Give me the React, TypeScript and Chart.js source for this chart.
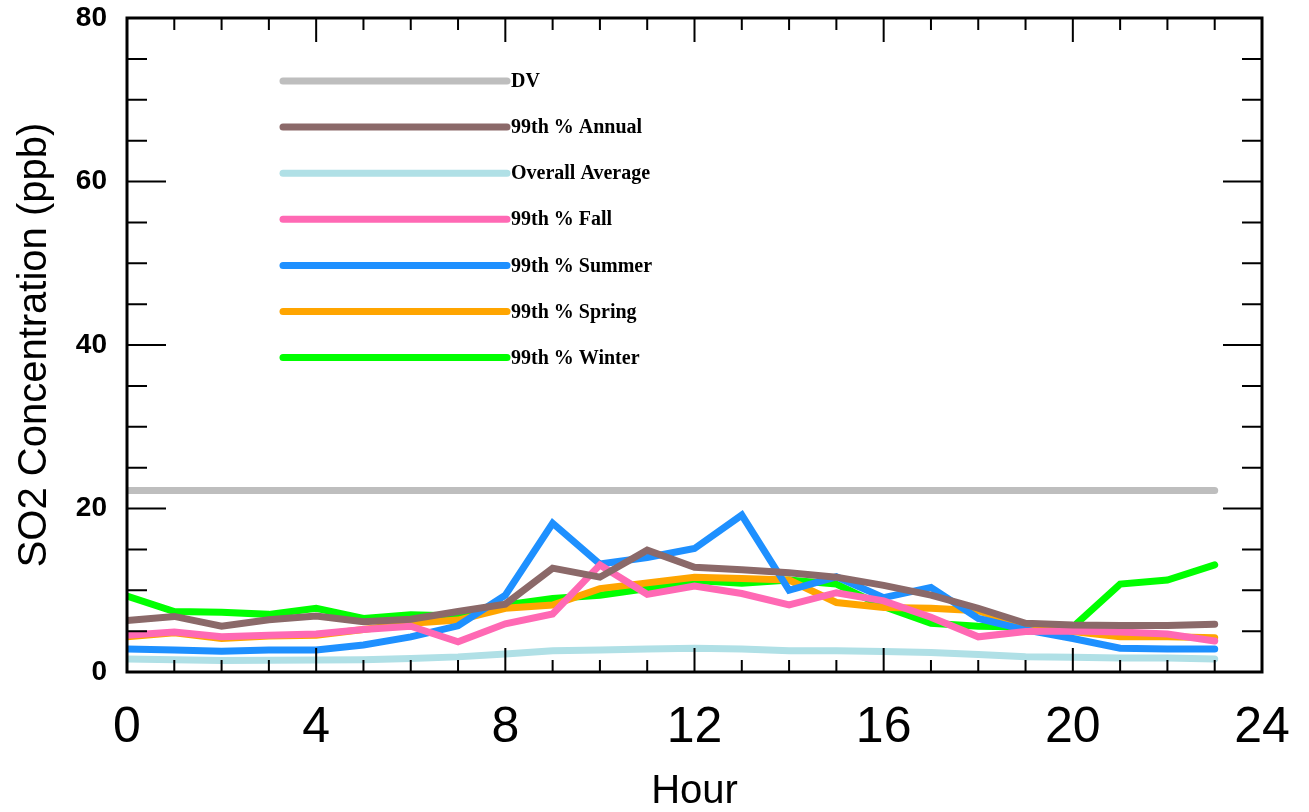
import React, { useEffect, useRef } from "react";
import { Chart, registerables } from "chart.js";

Chart.register(...registerables);

const hours = [0, 1, 2, 3, 4, 5, 6, 7, 8, 9, 10, 11, 12, 13, 14, 15, 16, 17, 18, 19, 20, 21, 22, 23];

const dv = [22.2, 22.2, 22.2, 22.2, 22.2, 22.2, 22.2, 22.2, 22.2, 22.2, 22.2, 22.2, 22.2, 22.2, 22.2, 22.2, 22.2, 22.2, 22.2, 22.2, 22.2, 22.2, 22.2, 22.2];
const annual = [6.3, 6.8, 5.6, 6.4, 6.85, 6.15, 6.45, 7.4, 8.3, 12.7, 11.6, 14.9, 12.8, 12.5, 12.15, 11.6, 10.6, 9.4, 7.8, 5.95, 5.75, 5.7, 5.7, 5.85];
const overall = [1.6, 1.5, 1.4, 1.45, 1.47, 1.5, 1.65, 1.85, 2.2, 2.6, 2.7, 2.8, 2.9, 2.8, 2.6, 2.6, 2.5, 2.4, 2.15, 1.87, 1.8, 1.7, 1.7, 1.6];
const fall = [4.5, 4.9, 4.3, 4.5, 4.65, 5.2, 5.6, 3.7, 5.9, 7.1, 13.1, 9.5, 10.5, 9.6, 8.2, 9.7, 8.7, 6.7, 4.3, 4.95, 5.0, 4.9, 4.65, 3.8];
const summer = [2.8, 2.7, 2.55, 2.7, 2.7, 3.3, 4.3, 5.65, 9.4, 18.2, 13.2, 14.0, 15.1, 19.2, 10.0, 11.65, 9.1, 10.35, 6.55, 5.15, 4.1, 2.9, 2.8, 2.8];
const spring = [4.3, 4.8, 4.1, 4.4, 4.5, 5.2, 5.95, 6.35, 7.8, 8.2, 10.2, 10.9, 11.6, 11.45, 11.25, 8.5, 7.9, 7.8, 7.5, 5.5, 4.95, 4.3, 4.3, 4.2];
const winter = [9.3, 7.4, 7.3, 7.05, 7.8, 6.55, 7.0, 6.85, 8.2, 9.0, 9.4, 10.2, 11.2, 10.85, 11.25, 10.75, 8.0, 5.95, 5.6, 5.5, 5.5, 10.75, 11.25, 13.1];

const legendLabels = ["DV", "99th % Annual", "Overall Average", "99th % Fall", "99th % Summer", "99th % Spring", "99th % Winter"];
const legendColors = ["#bebebe", "#8b6969", "#b0e0e6", "#ff69b4", "#1e90ff", "#ffa500", "#00ff00"];
const legendValues = [dv, annual, overall, fall, summer, spring, winter];
// drawing order: first entry is drawn on top
const drawOrder = ["99th % Annual", "99th % Fall", "99th % Summer", "99th % Spring", "99th % Winter", "Overall Average", "DV"];

const xMin = 0, xMax = 24, xStep = 4, xMinorStep = 1;
const yMin = 0, yMax = 80, yStep = 20, yMinorStep = 5;

export default function App() {
  const ref = useRef<HTMLCanvasElement>(null);

  useEffect(() => {
    if (!ref.current) return;

    const framePlugin = {
      id: "frameTicksLegend",
      afterDatasetsDraw(chart: any) {
        const { ctx, chartArea: a, scales } = chart;
        const xs = scales.x, ys = scales.y;
        ctx.save();
        ctx.strokeStyle = "#000";
        ctx.lineWidth = 2;
        ctx.lineCap = "butt";
        for (let v = yMin; v <= yMax; v += yMinorStep) {
          const py = ys.getPixelForValue(v);
          const len = v % yStep === 0 ? 39 : 20;
          ctx.beginPath();
          ctx.moveTo(a.left, py);
          ctx.lineTo(a.left + len, py);
          ctx.moveTo(a.right, py);
          ctx.lineTo(a.right - len, py);
          ctx.stroke();
        }
        for (let v = xMin; v <= xMax; v += xMinorStep) {
          const px = xs.getPixelForValue(v);
          const len = v % xStep === 0 ? 24 : 12;
          ctx.beginPath();
          ctx.moveTo(px, a.bottom);
          ctx.lineTo(px, a.bottom - len);
          ctx.moveTo(px, a.top);
          ctx.lineTo(px, a.top + len);
          ctx.stroke();
        }
        ctx.lineWidth = 3;
        ctx.strokeRect(a.left, a.top, a.right - a.left, a.bottom - a.top);

        // legend
        const lx0 = 283, lx1 = 507, ly0 = 81, ldy = 46.1;
        ctx.lineCap = "round";
        ctx.lineWidth = 7;
        ctx.font = "bold 20px 'Liberation Serif', 'Times New Roman', serif";
        ctx.textBaseline = "middle";
        ctx.textAlign = "left";
        legendLabels.forEach((lab, i) => {
          const yy = ly0 + i * ldy;
          ctx.strokeStyle = legendColors[i];
          ctx.beginPath();
          ctx.moveTo(lx0, yy);
          ctx.lineTo(lx1, yy);
          ctx.stroke();
          ctx.fillStyle = "#000";
          ctx.fillText(lab, 511, yy + 1);
        });
        ctx.restore();
      },
    };

    const datasets = drawOrder.map((name) => {
      const i = legendLabels.indexOf(name);
      return {
        label: name,
        data: hours.map((h, k) => ({ x: h, y: legendValues[i][k] })),
        borderColor: legendColors[i],
        backgroundColor: legendColors[i],
        borderWidth: 7,
        pointRadius: 0,
        borderCapStyle: "round" as const,
        borderJoinStyle: "miter" as const,
        tension: 0,
        fill: false,
      };
    });

    const chart = new Chart(ref.current, {
      type: "line",
      data: { datasets },
      options: {
        animation: false,
        responsive: false,
        layout: { padding: { left: 0, right: 47, top: 18, bottom: 0 } },
        plugins: { legend: { display: false }, tooltip: { enabled: false } },
        scales: {
          x: {
            type: "linear",
            min: xMin,
            max: xMax,
            grid: { display: false, drawTicks: false, tickLength: 0 },
            border: { display: false },
            ticks: {
              stepSize: xStep,
              color: "#000",
              padding: 26,
              font: { family: "'Liberation Sans', Arial, sans-serif", size: 50 },
              maxRotation: 0,
            },
            title: {
              display: true,
              text: "Hour",
              color: "#000",
              font: { family: "'Liberation Sans', Arial, sans-serif", size: 40, lineHeight: 1 },
              padding: { top: 0, bottom: 0 },
            },
            afterFit: (s: any) => {
              s.height = 140;
              s.paddingLeft = 0;
              s.paddingRight = 0;
            },
          },
          y: {
            type: "linear",
            min: yMin,
            max: yMax,
            grid: { display: false, drawTicks: false, tickLength: 0 },
            border: { display: false },
            ticks: {
              stepSize: yStep,
              color: "#000",
              padding: 20,
              font: { family: "'Liberation Sans', Arial, sans-serif", size: 28, weight: "bold" },
            },
            title: {
              display: true,
              text: "SO2 Concentration (ppb)",
              color: "#000",
              font: { family: "'Liberation Sans', Arial, sans-serif", size: 40, lineHeight: 1 },
              padding: { top: 15, bottom: 0 },
            },
            afterFit: (s: any) => {
              s.width = 127;
              s.paddingTop = 0;
              s.paddingBottom = 0;
            },
          },
        },
      },
      plugins: [framePlugin],
    });

    return () => chart.destroy();
  }, []);

  return (
    <div style={{ position: "fixed", left: 0, top: 0, width: 1309, height: 812, background: "#fff" }}>
      <canvas ref={ref} width={1309} height={812} style={{ display: "block" }} />
    </div>
  );
}
